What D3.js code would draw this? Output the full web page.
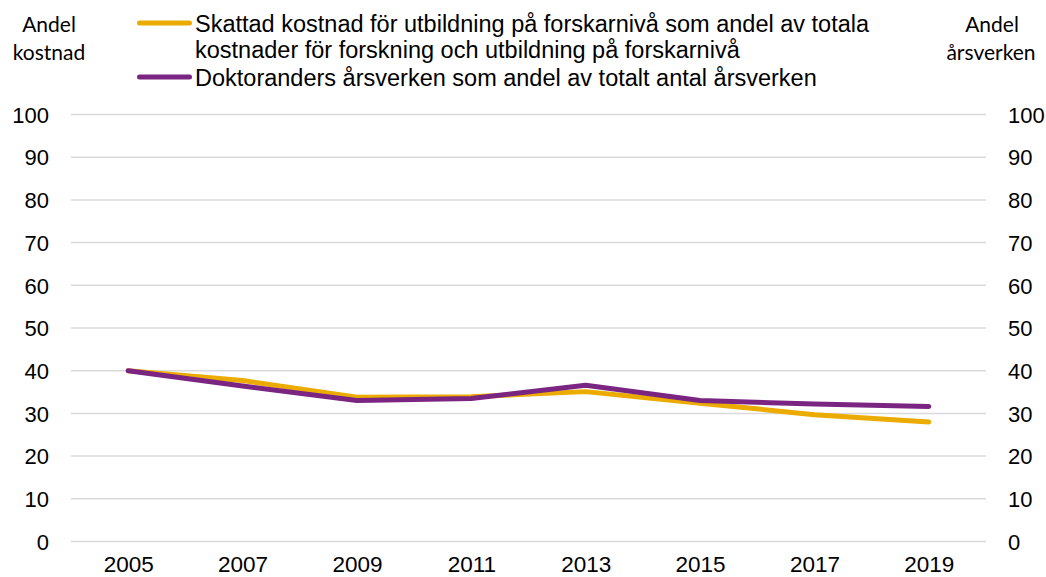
<!DOCTYPE html>
<html>
<head>
<meta charset="utf-8">
<script src="https://cdn.jsdelivr.net/npm/d3@7"></script>
<style>
  body { margin: 0; background: #fff; }
  text { font-family: "Liberation Sans", Arial, sans-serif; fill: #000; }
  .grid line { stroke: #d9d9d9; stroke-width: 1.5; }
  .axis path, .axis line { display: none; }
  .title { font-family: Lato, "Open Sans", sans-serif; font-size: 21px; font-weight: 400; }
</style>
</head>
<body>
<script>
// data
var years = ["2005", "2007", "2009", "2011", "2013", "2015", "2017", "2019"];
var kostnad = [40.0, 37.7, 33.8, 33.9, 35.1, 32.4, 29.7, 28.0];
var arsverken = [40.0, 36.4, 33.0, 33.5, 36.6, 33.0, 32.2, 31.6];
var yTicks = [0, 10, 20, 30, 40, 50, 60, 70, 80, 90, 100];
var seriesNames = [
  ["Skattad kostnad för utbildning på forskarnivå som andel av totala", "kostnader för forskning och utbildning på forskarnivå"],
  ["Doktoranders årsverken som andel av totalt antal årsverken"]
];
var colors = ["#ebab00", "#7b2583"];

var width = 1046, height = 577;
var plot = {left: 71, right: 986, top: 114.5, bottom: 541.5};

var svg = d3.select("body").append("svg")
    .attr("width", width)
    .attr("height", height);

var x = d3.scalePoint()
    .domain(years)
    .range([plot.left, plot.right])
    .padding(0.5);

var y = d3.scaleLinear()
    .domain([0, 100])
    .range([plot.bottom, plot.top]);

// gridlines
svg.append("g")
    .attr("class", "grid")
  .selectAll("line")
  .data(yTicks)
  .enter().append("line")
    .attr("x1", plot.left)
    .attr("x2", plot.right)
    .attr("y1", function(d) { return y(d); })
    .attr("y2", function(d) { return y(d); });

// left axis
svg.append("g")
    .attr("class", "axis")
    .attr("transform", "translate(49,0)")
    .call(d3.axisLeft(y).tickValues(yTicks).tickSize(0).tickPadding(0))
    .selectAll("text")
      .style("font-size", "22px")
      .attr("dy", "0.35em");

// right axis
svg.append("g")
    .attr("class", "axis")
    .attr("transform", "translate(1008,0)")
    .call(d3.axisRight(y).tickValues(yTicks).tickSize(0).tickPadding(0))
    .selectAll("text")
      .style("font-size", "22px")
      .attr("dy", "0.35em");

// x axis
svg.append("g")
    .attr("class", "axis")
    .attr("transform", "translate(0," + plot.bottom + ")")
    .call(d3.axisBottom(x).tickSize(0).tickPadding(15))
    .selectAll("text")
      .style("font-size", "22.5px");

// lines
var line = d3.line()
    .x(function(d, i) { return x(years[i]); })
    .y(function(d) { return y(d); });

[kostnad, arsverken].forEach(function(s, i) {
  svg.append("path")
      .datum(s)
      .attr("fill", "none")
      .attr("stroke", colors[i])
      .attr("stroke-width", 5)
      .attr("stroke-linecap", "round")
      .attr("stroke-linejoin", "round")
      .attr("d", line);
});

// axis titles
function title(xPos, yPos, t) {
  svg.append("text")
      .attr("class", "title")
      .attr("x", xPos).attr("y", yPos)
      .attr("text-anchor", "middle")
      .text(t);
}
title(49, 32, "Andel");
title(49, 60, "kostnad");
title(992, 32, "Andel");
title(991, 60, "årsverken");

// legend
var legendY = [23, 77];
seriesNames.forEach(function(lines, i) {
  var g = svg.append("g");
  g.append("line")
      .attr("x1", 139.5).attr("x2", 189.5)
      .attr("y1", legendY[i]).attr("y2", legendY[i])
      .attr("stroke", colors[i])
      .attr("stroke-width", 5)
      .attr("stroke-linecap", "round");
  lines.forEach(function(t, j) {
    g.append("text")
        .attr("x", 195)
        .attr("y", legendY[i] + 9 + j * 26)
        .style("font-size", "23.5px")
        .text(t);
  });
});
</script>
</body>
</html>
